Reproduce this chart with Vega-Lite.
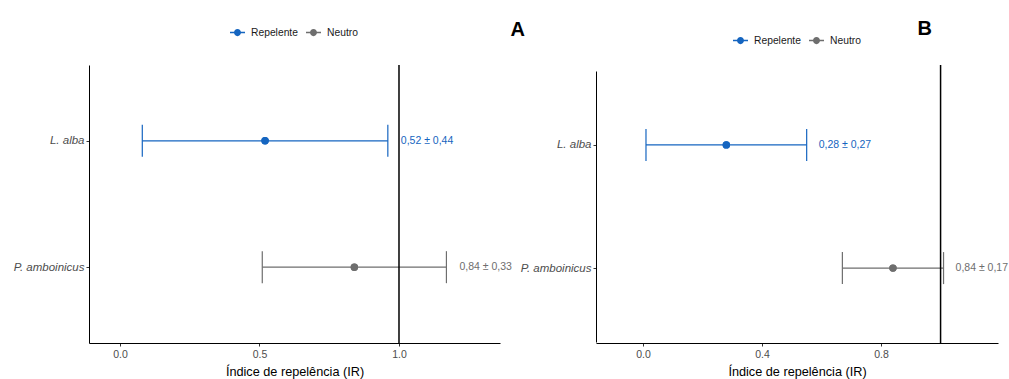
{
  "$schema": "https://vega.github.io/schema/vega-lite/v6.json",
  "padding": {"left": 13, "top": 19, "right": 0, "bottom": 0},
  "background": "white",
  "config": {
    "view": {"stroke": null},
    "font": "Liberation Sans",
    "axis": {"grid": false, "domainColor": "#000000", "domainWidth": 1, "tickColor": "#333333", "tickSize": 3, "tickWidth": 1, "labelColor": "#4d4d4d", "labelFontSize": 10.5, "titleFontSize": 12.7, "titleFontWeight": "normal", "titleColor": "#000000"},
    "title": {"fontSize": 20, "fontWeight": "bold", "color": "#000000", "font": "Liberation Sans"}
  },
  "datasets": {
    "a": [
      {"sp": "L. alba", "mean": 0.52, "lo": 0.08, "hi": 0.96, "cls": "Repelente", "label": "0,52 ± 0,44"},
      {"sp": "P. amboinicus", "mean": 0.84, "lo": 0.51, "hi": 1.17, "cls": "Neutro", "label": "0,84 ± 0,33"}
    ],
    "b": [
      {"sp": "L. alba", "mean": 0.28, "lo": 0.01, "hi": 0.55, "cls": "Repelente", "label": "0,28 ± 0,27"},
      {"sp": "P. amboinicus", "mean": 0.84, "lo": 0.67, "hi": 1.01, "cls": "Neutro", "label": "0,84 ± 0,17"}
    ],
    "ref": [{"v": 1}]
  },
  "bounds": "flush",
  "spacing": 96,
  "resolve": {"scale": {"color": "independent"}, "legend": {"color": "independent"}},
  "hconcat": [
    {
      "width": 411,
      "height": 278,
      "title": {"text": "A", "anchor": "end", "dx": 13, "dy": 15, "offset": 0},
      "data": {"name": "a"},
      "layer": [
        {
          "mark": {"type": "point", "filled": true, "size": 55, "opacity": 1},
          "encoding": {
            "x": {"field": "mean", "type": "quantitative", "scale": {"domain": [-0.111, 1.362], "nice": false, "zero": false}, "axis": {"values": [0, 0.5, 1], "format": ".1f", "title": "Índice de repelência (IR)", "labelPadding": 3, "titlePadding": 6}},
            "y": {"field": "sp", "type": "nominal", "sort": ["L. alba", "P. amboinicus"], "scale": {"type": "point", "padding": 0.6}, "axis": {"title": null, "labelFontStyle": "italic", "labelFontSize": 11.5, "labelPadding": 2}},
            "color": {"field": "cls", "type": "nominal", "scale": {"domain": ["Repelente", "Neutro"], "range": ["#1565C0", "#6e6e6e"]}, "legend": {"title": null, "orient": "none", "legendX": 141, "legendY": -40, "direction": "horizontal", "symbolType": "M-1,-0.1L1,-0.1L1,0.1L-1,0.1Z M0.47,0A0.47,0.47 0 1,1 -0.47,0A0.47,0.47 0 1,1 0.47,0Z", "symbolSize": 225, "symbolStrokeWidth": 0, "symbolOpacity": 1, "labelFontSize": 10.3, "labelColor": "#1a1a1a", "labelOffset": 6, "columnPadding": 8, "padding": 0}}
          }
        },
        {
          "mark": {"type": "rule", "strokeWidth": 1.2},
          "encoding": {
            "x": {"field": "lo", "type": "quantitative"},
            "x2": {"field": "hi"},
            "y": {"field": "sp", "type": "nominal", "sort": ["L. alba", "P. amboinicus"]},
            "color": {"field": "cls", "type": "nominal"}
          }
        },
        {
          "mark": {"type": "tick", "size": 32, "thickness": 1.2, "opacity": 1},
          "encoding": {
            "x": {"field": "lo", "type": "quantitative"},
            "y": {"field": "sp", "type": "nominal", "sort": ["L. alba", "P. amboinicus"]},
            "color": {"field": "cls", "type": "nominal"}
          }
        },
        {
          "mark": {"type": "tick", "size": 32, "thickness": 1.2, "opacity": 1},
          "encoding": {
            "x": {"field": "hi", "type": "quantitative"},
            "y": {"field": "sp", "type": "nominal", "sort": ["L. alba", "P. amboinicus"]},
            "color": {"field": "cls", "type": "nominal"}
          }
        },
        {
          "mark": {"type": "point", "filled": true, "size": 55, "opacity": 1},
          "encoding": {
            "x": {"field": "mean", "type": "quantitative"},
            "y": {"field": "sp", "type": "nominal", "sort": ["L. alba", "P. amboinicus"]},
            "color": {"field": "cls", "type": "nominal"}
          }
        },
        {
          "mark": {"type": "text", "align": "left", "baseline": "middle", "dx": 13, "fontSize": 10.5},
          "encoding": {
            "x": {"field": "hi", "type": "quantitative"},
            "y": {"field": "sp", "type": "nominal", "sort": ["L. alba", "P. amboinicus"]},
            "text": {"field": "label"},
            "color": {"field": "cls", "type": "nominal"}
          }
        },
        {
          "data": {"name": "ref"},
          "mark": {"type": "rule", "color": "#000000", "strokeWidth": 1.5},
          "encoding": {"x": {"field": "v", "type": "quantitative"}}
        }
      ]
    },
    {
      "width": 402,
      "height": 278,
      "title": {"text": "B", "anchor": "end", "dx": -76, "dy": 6, "offset": 0},
      "data": {"name": "b"},
      "layer": [
        {
          "mark": {"type": "point", "filled": true, "size": 55, "opacity": 1},
          "encoding": {
            "x": {"field": "mean", "type": "quantitative", "scale": {"domain": [-0.158, 1.193], "nice": false, "zero": false}, "axis": {"values": [0, 0.4, 0.8], "format": ".1f", "title": "Índice de repelência (IR)", "labelPadding": 3, "titlePadding": 6}},
            "y": {"field": "sp", "type": "nominal", "sort": ["L. alba", "P. amboinicus"], "scale": {"type": "point", "padding": 0.6, "range": [6, 277]}, "axis": {"title": null, "labelFontStyle": "italic", "labelFontSize": 11.5, "labelPadding": 2}},
            "color": {"field": "cls", "type": "nominal", "scale": {"domain": ["Repelente", "Neutro"], "range": ["#1565C0", "#6e6e6e"]}, "legend": {"title": null, "orient": "none", "legendX": 137, "legendY": -32, "direction": "horizontal", "symbolType": "M-1,-0.1L1,-0.1L1,0.1L-1,0.1Z M0.47,0A0.47,0.47 0 1,1 -0.47,0A0.47,0.47 0 1,1 0.47,0Z", "symbolSize": 225, "symbolStrokeWidth": 0, "symbolOpacity": 1, "labelFontSize": 10.3, "labelColor": "#1a1a1a", "labelOffset": 6, "columnPadding": 8, "padding": 0}}
          }
        },
        {
          "mark": {"type": "rule", "strokeWidth": 1.2},
          "encoding": {
            "x": {"field": "lo", "type": "quantitative"},
            "x2": {"field": "hi"},
            "y": {"field": "sp", "type": "nominal", "sort": ["L. alba", "P. amboinicus"]},
            "color": {"field": "cls", "type": "nominal"}
          }
        },
        {
          "mark": {"type": "tick", "size": 32, "thickness": 1.2, "opacity": 1},
          "encoding": {
            "x": {"field": "lo", "type": "quantitative"},
            "y": {"field": "sp", "type": "nominal", "sort": ["L. alba", "P. amboinicus"]},
            "color": {"field": "cls", "type": "nominal"}
          }
        },
        {
          "mark": {"type": "tick", "size": 32, "thickness": 1.2, "opacity": 1},
          "encoding": {
            "x": {"field": "hi", "type": "quantitative"},
            "y": {"field": "sp", "type": "nominal", "sort": ["L. alba", "P. amboinicus"]},
            "color": {"field": "cls", "type": "nominal"}
          }
        },
        {
          "mark": {"type": "point", "filled": true, "size": 55, "opacity": 1},
          "encoding": {
            "x": {"field": "mean", "type": "quantitative"},
            "y": {"field": "sp", "type": "nominal", "sort": ["L. alba", "P. amboinicus"]},
            "color": {"field": "cls", "type": "nominal"}
          }
        },
        {
          "mark": {"type": "text", "align": "left", "baseline": "middle", "dx": 12, "fontSize": 10.5},
          "encoding": {
            "x": {"field": "hi", "type": "quantitative"},
            "y": {"field": "sp", "type": "nominal", "sort": ["L. alba", "P. amboinicus"]},
            "text": {"field": "label"},
            "color": {"field": "cls", "type": "nominal"}
          }
        },
        {
          "data": {"name": "ref"},
          "mark": {"type": "rule", "color": "#000000", "strokeWidth": 1.5},
          "encoding": {"x": {"field": "v", "type": "quantitative"}}
        }
      ]
    }
  ]
}
